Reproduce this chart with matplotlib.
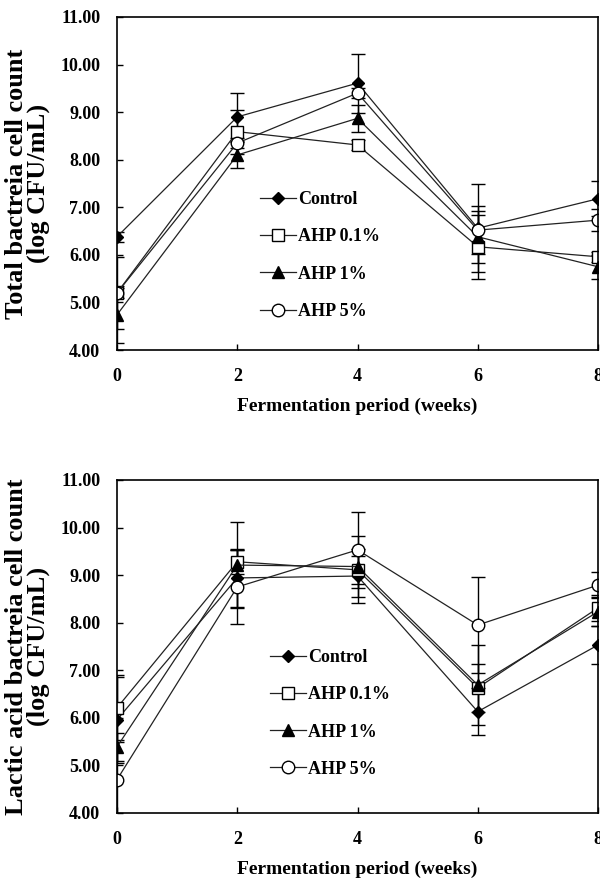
import matplotlib
matplotlib.use("Agg")
import matplotlib.pyplot as plt

plt.rcParams['font.family'] = ['Liberation Serif', 'DejaVu Serif']
plt.rcParams['font.weight'] = 'bold'

weeks = [0, 2, 4, 6, 8]
labels = ["Control", "AHP 0.1%", "AHP 1%", "AHP 5%"]
markers = ["D", "s", "^", "o"]
msizes = [6, 9, 8, 9]
fills = ["black", "white", "black", "white"]

# total bacteria (log CFU/mL)
total_mean = [
    [6.38, 8.90, 9.61, 6.56, 7.18],
    [5.20, 8.59, 8.31, 6.17, 5.96],
    [4.74, 8.10, 8.87, 6.38, 5.75],
    [5.20, 8.35, 9.40, 6.52, 6.73],
]
total_err = [
    [0.10, 0.50, 0.62, 0.92, 0.37],
    [0.75, 0.46, 0.10, 0.67, 0.10],
    [0.60, 0.27, 0.28, 0.55, 0.25],
    [0.10, 0.10, 0.10, 0.50, 0.23],
]

# lactic acid bacteria (log CFU/mL)
lab_mean = [
    [5.96, 8.94, 8.98, 6.13, 7.53],
    [6.21, 9.28, 9.11, 6.63, 8.31],
    [5.39, 9.21, 9.18, 6.69, 8.23],
    [4.70, 8.75, 9.53, 7.95, 8.79],
]
lab_err = [
    [0.90, 0.61, 0.57, 0.50, 0.40],
    [0.68, 0.25, 0.30, 0.50, 0.27],
    [0.30, 0.90, 0.65, 0.85, 0.30],
    [0.80, 0.78, 0.80, 1.00, 0.28],
]

fig = plt.figure(figsize=(6.0, 8.85), dpi=100)
ax1 = fig.add_axes([0.195, 0.6045, 0.8017, 0.3763])
ax2 = fig.add_axes([0.195, 0.0814, 0.8017, 0.3763])


def draw(ax, means, errs, ylabel, leg_xy):
    for m, e, lab, mk, ms, fc in zip(means, errs, labels, markers, msizes, fills):
        ax.errorbar(weeks, m, yerr=e, color="#222222", lw=0.9, elinewidth=1.0,
                    ecolor="black", capsize=5, capthick=1.0,
                    marker=mk, ms=ms, mfc=fc, mec="black", mew=1.0, label=lab)
    ax.set_xlim(0, 8)
    ax.set_ylim(4, 11)
    ax.set_xticks(weeks)
    ax.set_yticks(range(4, 12))
    ax.set_yticklabels([f"{v:.2f}" for v in range(4, 12)])
    ax.tick_params(direction="in", length=4.5, width=1.0, labelsize=13)
    ax.tick_params(axis="y", pad=12)
    ax.tick_params(axis="x", pad=13)
    for s in ax.spines.values():
        s.set_linewidth(1.2)
    ax.set_xlabel("Fermentation period (weeks)", fontsize=14,
                  fontweight="bold", labelpad=9)
    ax.set_ylabel(ylabel, fontsize=19, fontweight="bold", linespacing=0.95)
    ax.yaxis.set_label_coords(-0.139, 0.5)
    handles, lbls = ax.get_legend_handles_labels()
    handles = [h[0] for h in handles]
    ax.legend(handles, lbls, loc="upper left", bbox_to_anchor=leg_xy,
              frameon=False, borderpad=0, borderaxespad=0,
              handlelength=2.0, handletextpad=0.1, labelspacing=1.12,
              prop={"size": 13, "weight": "bold"})


draw(ax1, total_mean, total_err, "Total bactreia cell count\n(log CFU/mL)",
     (0.297, 0.477))
draw(ax2, lab_mean, lab_err, "Lactic acid bactreia cell count\n(log CFU/mL)",
     (0.318, 0.492))

fig.savefig("out.png", dpi=100)
